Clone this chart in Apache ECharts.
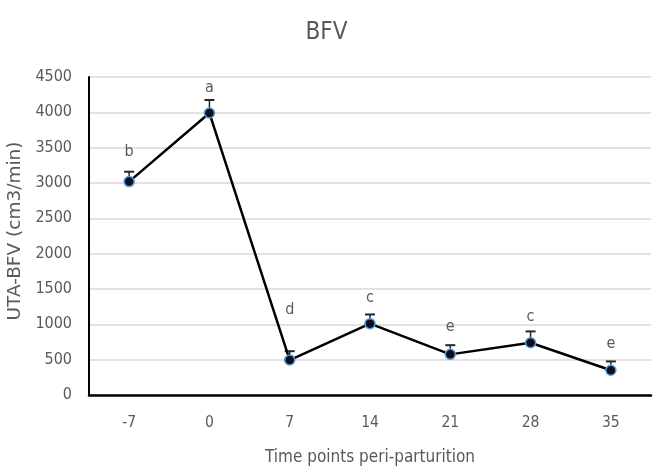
<!DOCTYPE html>
<html>
<head>
<meta charset="utf-8">
<script src="https://cdn.jsdelivr.net/npm/echarts@6/dist/echarts.min.js"></script>
<style>
  html, body { margin: 0; padding: 0; background: #fff; }
  #chart { width: 653px; height: 466px; }
</style>
</head>
<body>
<div id="chart"></div>
<script>
// Uterine artery blood flow volume around parturition
const timePoints = ['-7', '0', '7', '14', '21', '28', '35'];
const bfvMean = [3020, 3990, 495, 1010, 575, 740, 350];
const bfvSem = [140, 185, 125, 130, 130, 160, 125];
const groupLetters = ['b', 'a', 'd', 'c', 'e', 'c', 'e'];

const FONT = "'DejaVu Sans Condensed', 'Liberation Sans Narrow', sans-serif";
const FONT_WIDE = "'DejaVu Sans', sans-serif";
const TEXT = '#595959';

// distance of each significance letter above its marker
const letterGap = [15.5, 11.5, 36.5, 12.5, 13.5, 12.5, 12.5];

const chart = echarts.init(document.getElementById('chart'));

const lineData = bfvMean.map((v, i) => ({
  value: v,
  label: { distance: letterGap[i] }
}));

const errData = bfvMean.map((v, i) => [i, v, v + bfvSem[i]]);

chart.setOption({
  animation: false,
  title: {
    text: 'BFV',
    left: 'center',
    top: 16,
    textStyle: { fontFamily: FONT, fontSize: 24, fontWeight: 'normal', color: TEXT }
  },
  grid: { left: 89, right: 2, top: 77, bottom: 71, outerBoundsMode: 'none', containLabel: false },
  xAxis: {
    type: 'category',
    data: timePoints,
    boundaryGap: true,
    name: 'Time points peri-parturition',
    nameLocation: 'middle',
    nameGap: 54,
    nameTextStyle: { fontFamily: FONT, fontSize: 17, color: TEXT },
    axisLine: { lineStyle: { color: '#000', width: 2.5 } },
    axisTick: { show: false },
    axisLabel: { fontFamily: FONT, fontSize: 15.5, color: TEXT, margin: 20 }
  },
  yAxis: {
    type: 'value',
    min: 0,
    max: 4500,
    interval: 500,
    name: 'UTA-BFV (cm3/min)',
    nameLocation: 'middle',
    nameGap: 46,
    nameTextStyle: { fontFamily: FONT_WIDE, fontSize: 18.5, color: TEXT, padding: [0, 0, 0, 10] },
    axisLine: { show: true, lineStyle: { color: '#000', width: 2 } },
    axisTick: { show: false },
    axisLabel: {
      fontFamily: FONT, fontSize: 16, color: TEXT, margin: 17,
      formatter: function (v) { return String(v); }
    },
    splitLine: { lineStyle: { color: '#d9d9d9', width: 1.5 } }
  },
  series: [
    {
      type: 'custom',
      data: errData,
      z: 3,
      renderItem: function (params, api) {
        const x = api.value(0);
        const low = api.coord([x, api.value(1)]);
        const high = api.coord([x, api.value(2)]);
        const half = 5;
        return {
          type: 'group',
          children: [
            { type: 'line', shape: { x1: low[0], y1: low[1], x2: high[0], y2: high[1] }, style: { stroke: '#262626', lineWidth: 1.5 } },
            { type: 'line', shape: { x1: high[0] - half, y1: high[1], x2: high[0] + half, y2: high[1] }, style: { stroke: '#262626', lineWidth: 2 } }
          ]
        };
      }
    },
    {
      type: 'line',
      data: lineData,
      z: 5,
      symbol: 'circle',
      symbolSize: 10,
      lineStyle: { color: '#000', width: 2.5 },
      itemStyle: { color: '#0b0f1e', borderColor: '#5b9bd5', borderWidth: 1.5 },
      label: {
        show: true,
        position: 'top',
        formatter: function (p) { return groupLetters[p.dataIndex]; },
        fontFamily: FONT,
        fontSize: 16,
        color: TEXT
      }
    }
  ]
});
</script>
</body>
</html>
